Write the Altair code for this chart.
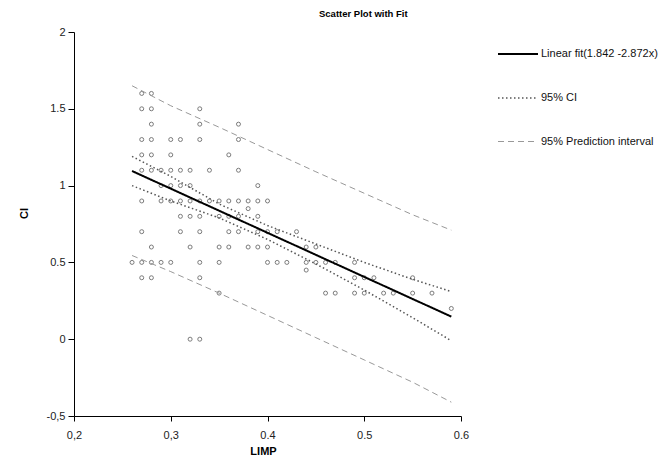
import altair as alt
import pandas as pd

# ---- data ----
pts_x = [0.27, 0.28,
         0.27, 0.28, 0.33,
         0.28, 0.33, 0.37,
         0.27, 0.28, 0.30, 0.31, 0.33, 0.37,
         0.27, 0.28, 0.30, 0.36,
         0.27, 0.28, 0.29, 0.30, 0.31, 0.32, 0.34, 0.37,
         0.29, 0.30, 0.31, 0.32, 0.39,
         0.27, 0.29, 0.30, 0.31, 0.32, 0.33, 0.34, 0.35, 0.36, 0.37, 0.38, 0.39, 0.40,
         0.38,
         0.31, 0.32, 0.33, 0.35, 0.36, 0.37, 0.39,
         0.27, 0.31, 0.33, 0.36, 0.37, 0.39, 0.40, 0.41, 0.43,
         0.28, 0.32, 0.35, 0.36, 0.38, 0.39, 0.40, 0.44, 0.45,
         0.26, 0.27, 0.28, 0.29, 0.30, 0.33, 0.35, 0.40, 0.41, 0.42, 0.44, 0.45, 0.46, 0.47, 0.49,
         0.44,
         0.27, 0.28, 0.33, 0.49, 0.50, 0.51, 0.55,
         0.35, 0.46, 0.47, 0.49, 0.50, 0.52, 0.53, 0.55, 0.57,
         0.59,
         0.32, 0.33]
pts_y = [1.6, 1.6,
         1.5, 1.5, 1.5,
         1.4, 1.4, 1.4,
         1.3, 1.3, 1.3, 1.3, 1.3, 1.3,
         1.2, 1.2, 1.2, 1.2,
         1.1, 1.1, 1.1, 1.1, 1.1, 1.1, 1.1, 1.1,
         1.0, 1.0, 1.0, 1.0, 1.0,
         0.9, 0.9, 0.9, 0.9, 0.9, 0.9, 0.9, 0.9, 0.9, 0.9, 0.9, 0.9, 0.9,
         0.85,
         0.8, 0.8, 0.8, 0.8, 0.8, 0.8, 0.8,
         0.7, 0.7, 0.7, 0.7, 0.7, 0.7, 0.7, 0.7, 0.7,
         0.6, 0.6, 0.6, 0.6, 0.6, 0.6, 0.6, 0.6, 0.6,
         0.5, 0.5, 0.5, 0.5, 0.5, 0.5, 0.5, 0.5, 0.5, 0.5, 0.5, 0.5, 0.5, 0.5, 0.5,
         0.45,
         0.4, 0.4, 0.4, 0.4, 0.4, 0.4, 0.4,
         0.3, 0.3, 0.3, 0.3, 0.3, 0.3, 0.3, 0.3, 0.3,
         0.2,
         0.0, 0.0]

fit_x = [0.26, 0.59]
fit_y = [1.095, 0.147]

band_x = [0.26, 0.30, 0.35, 0.40, 0.45, 0.50, 0.55, 0.59]
ci_upper = [1.19, 1.06, 0.88, 0.74, 0.62, 0.50, 0.39, 0.31]
ci_lower = [1.00, 0.90, 0.79, 0.65, 0.49, 0.32, 0.14, -0.01]
pi_upper = [1.65, 1.52, 1.38, 1.235, 1.09, 0.95, 0.81, 0.71]
pi_lower = [0.545, 0.44, 0.30, 0.155, 0.01, -0.135, -0.28, -0.41]

series_names = ["Linear fit(1.842  -2.872x)", "95% CI", "95% Prediction interval"]

# ---- tables ----
pts = pd.DataFrame({"x": pts_x, "y": pts_y})

rows = []
for x, y in zip(fit_x, fit_y):
    rows.append({"x": x, "y": y, "series": series_names[0], "bound": "fit"})
for x, y in zip(band_x, ci_upper):
    rows.append({"x": x, "y": y, "series": series_names[1], "bound": "ci_u"})
for x, y in zip(band_x, ci_lower):
    rows.append({"x": x, "y": y, "series": series_names[1], "bound": "ci_l"})
for x, y in zip(band_x, pi_upper):
    rows.append({"x": x, "y": y, "series": series_names[2], "bound": "pi_u"})
for x, y in zip(band_x, pi_lower):
    rows.append({"x": x, "y": y, "series": series_names[2], "bound": "pi_l"})
lines = pd.DataFrame(rows)

FONT = "Liberation Sans"

x_scale = alt.Scale(domain=[0.2, 0.6], nice=False, zero=False)
y_scale = alt.Scale(domain=[-0.5, 2.0], nice=False, zero=False)

x_axis = alt.Axis(
    values=[0.2, 0.3, 0.4, 0.5, 0.6],
    labelExpr="abs(datum.value-0.2)<0.01 ? '0,2' : abs(datum.value-0.3)<0.01 ? '0,3' : format(datum.value, '.1f')",
    grid=False, domainColor="black", tickColor="black", tickSize=5, labelFlush=False,
    labelFont=FONT, labelFontSize=11, labelColor="#222", labelPadding=8,
    title="LIMP", titleFont=FONT, titleFontSize=11, titleFontWeight="bold",
    titleX=189, titleY=35, titleAlign="center", titleBaseline="middle",
)
y_axis = alt.Axis(
    values=[-0.5, 0, 0.5, 1, 1.5, 2],
    labelExpr="datum.value < -0.4 ? '-0,5' : format(datum.value, '~g')",
    grid=False, domainColor="black", tickColor="black", tickSize=6, labelFlush=False,
    labelFont=FONT, labelFontSize=11, labelColor="#222", labelPadding=3,
    title="CI", titleFont=FONT, titleFontSize=11, titleFontWeight="bold",
    titleX=-50, titleY=181, titleAlign="center", titleBaseline="middle",
)

points = alt.Chart(pts).mark_point(
    shape="circle", filled=False, size=16, stroke="#444", strokeWidth=1
).encode(
    x=alt.X("x:Q", scale=x_scale, axis=x_axis),
    y=alt.Y("y:Q", scale=y_scale, axis=y_axis),
)

def leg():
    return alt.Legend(title=None, orient="none", legendX=423, legendY=1,
                      symbolType="stroke", symbolSize=1600,
                      labelFont=FONT, labelFontSize=11, labelColor="#111",
                      labelOffset=2, rowPadding=18, labelLimit=200)

line_layer = alt.Chart(lines).mark_line().encode(
    x=alt.X("x:Q", scale=x_scale),
    y=alt.Y("y:Q", scale=y_scale),
    detail="bound:N",
    color=alt.Color("series:N", scale=alt.Scale(domain=series_names, range=["#000000", "#555555", "#999999"]),
                    legend=leg()),
    strokeDash=alt.StrokeDash("series:N", scale=alt.Scale(domain=series_names, range=[[1, 0], [1.5, 2.5], [6, 4]]),
                              legend=leg()),
    strokeWidth=alt.StrokeWidth("series:N", scale=alt.Scale(domain=series_names, range=[2, 1, 1]),
                                legend=leg()),
)

chart = alt.layer(points, line_layer).properties(
    width=387, height=384,
    autosize=alt.AutoSizeParams(type="none"),
    padding={"left": 66, "top": 24, "right": 198, "bottom": 41},
    title=alt.TitleParams("Scatter Plot with Fit", font=FONT, fontSize=9.5, fontWeight="bold",
                          anchor="start", dx=301, offset=8, color="#000"),
    background="white",
).configure_view(stroke=None)

chart.save("out.html", embed_options={"renderer": "svg", "actions": False})
